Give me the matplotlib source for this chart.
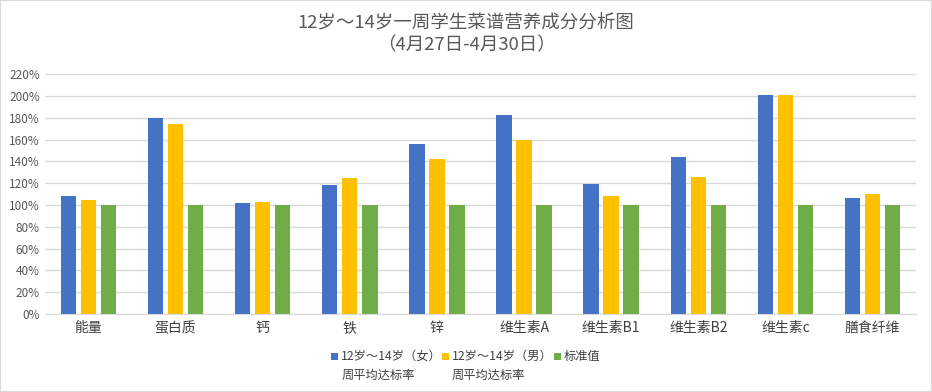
import matplotlib.pyplot as plt
import numpy as np
from matplotlib.ticker import PercentFormatter
from matplotlib.patches import Rectangle

plt.rcParams['font.family'] = ['Noto Sans CJK SC', 'DejaVu Sans']

categories = ['能量', '蛋白质', '钙', '铁', '锌', '维生素A', '维生素B1', '维生素B2', '维生素c', '膳食纤维']
girls = [108.3, 180, 102, 118.5, 156, 182.7, 119.3, 144.1, 201, 106.5]
boys = [104.6, 174.5, 103, 125, 142.3, 159.8, 108.3, 125.8, 201, 110.2]
standard = [100, 100, 100, 100, 100, 100, 100, 100, 100, 100]
labels = ['12岁～14岁（女）\n周平均达标率', '12岁～14岁（男）\n周平均达标率', '标准值']
colors = ['#4472c4', '#ffc000', '#70ad47']

fig = plt.figure(figsize=(9.32, 3.92), dpi=100)
ax = fig.add_axes([0.048, 0.199, 0.935, 0.612])

x = np.arange(len(categories))
w = 0.178
step = 0.23
for i, (vals, c) in enumerate(zip([girls, boys, standard], colors)):
    ax.bar(x + (i - 1) * step, vals, width=w, color=c)

ax.set_xlim(-0.5, len(categories) - 0.5)
ax.set_ylim(0, 220)
ax.set_yticks(np.arange(0, 221, 20))
ax.yaxis.set_major_formatter(PercentFormatter(decimals=0))
ax.set_xticks(x)
ax.set_xticklabels(categories, fontsize=10, color='#404040')
ax.tick_params(axis='y', labelsize=8.5, colors='#595959', length=0)
ax.tick_params(axis='x', length=0, pad=5)
ax.grid(axis='y', color='#d9d9d9', linewidth=1)
ax.set_axisbelow(True)
for s in ['top', 'right', 'left']:
    ax.spines[s].set_visible(False)
ax.spines['bottom'].set_color('#d9d9d9')

fig.text(0.5, 0.943, '12岁～14岁一周学生菜谱营养成分分析图', ha='center', va='center',
         fontsize=13.3, color='#595959')
fig.text(0.5, 0.885, '（4月27日-4月30日）', ha='center', va='center',
         fontsize=13.3, color='#595959')

# legend drawn by hand so the square sits beside the first line of each label
leg_x = [0.355, 0.474, 0.594]
leg_y = 0.089
for lx, lab, c in zip(leg_x, labels, colors):
    fig.add_artist(Rectangle((lx, leg_y - 0.008), 0.0075, 0.018, transform=fig.transFigure,
                             facecolor=c, edgecolor='none'))
    fig.text(lx + 0.011, leg_y + 0.018, lab, ha='left', va='top', fontsize=8.8,
             color='#404040', linespacing=1.6, transform=fig.transFigure)

fig.add_artist(Rectangle((0, 0), 1, 1, transform=fig.transFigure, fill=False,
                         edgecolor='#d9d9d9', linewidth=1.5))

fig.savefig('out.png', dpi=100)
